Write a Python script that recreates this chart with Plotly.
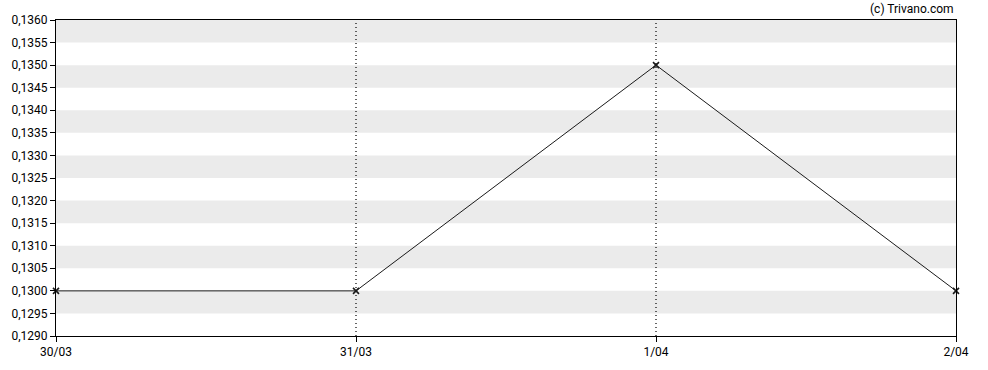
import plotly.graph_objects as go

dates = ["30/03", "31/03", "1/04", "2/04"]
prices = [0.1300, 0.1300, 0.1350, 0.1300]
y_min, y_max, y_step = 0.1290, 0.1360, 0.0005

x_idx = list(range(len(dates)))

fig = go.Figure()
fig.add_trace(go.Scatter(
    x=x_idx, y=prices, mode="lines+markers",
    line=dict(color="#1a1a1a", width=1),
    marker=dict(symbol="x-thin", size=6, color="#1a1a1a", line=dict(width=1.6, color="#1a1a1a")),
    hoverinfo="skip", cliponaxis=False,
))

shapes = []
n = round((y_max - y_min) / y_step)
for i in range(n):
    lo = y_min + i * y_step
    if i % 2 == 1:
        shapes.append(dict(type="rect", xref="paper", yref="y", x0=0, x1=1,
                           y0=lo, y1=lo + y_step, fillcolor="#ebebeb",
                           line=dict(width=0), layer="below"))
for xi in x_idx[1:-1]:
    shapes.append(dict(type="line", xref="x", yref="paper", x0=xi, x1=xi, y0=0, y1=1,
                       line=dict(color="#000000", width=1.2, dash="1px,3px"), layer="below"))

fig.update_layout(
    width=988, height=370,
    margin=dict(l=56, r=32, t=20, b=34),
    paper_bgcolor="white", plot_bgcolor="white",
    separators=", ",
    showlegend=False,
    shapes=shapes,
    font=dict(family="Roboto", size=12, color="#000000"),
    xaxis=dict(range=[0, len(dates) - 1], tickmode="array", tickvals=x_idx, ticktext=dates,
               showgrid=False, zeroline=False, showline=True, linecolor="black", linewidth=1,
               mirror=True, ticks="outside", ticklen=5, tickcolor="black",
               tickfont=dict(family="Roboto", size=12)),
    yaxis=dict(range=[y_min, y_max], tickmode="linear", tick0=y_min, dtick=y_step,
               tickformat=".4f", showgrid=False, zeroline=False, showline=True,
               linecolor="black", linewidth=1, mirror=True, ticks="outside", ticklen=5,
               tickcolor="black", tickfont=dict(family="Roboto", size=12)),
    annotations=[dict(text="(c) Trivano.com", xref="paper", yref="paper", x=1, y=1,
                      xanchor="right", yanchor="bottom", yshift=2, showarrow=False,
                      font=dict(family="Roboto", size=12, color="#000000"))],
)

fig.write_html("out.html")
